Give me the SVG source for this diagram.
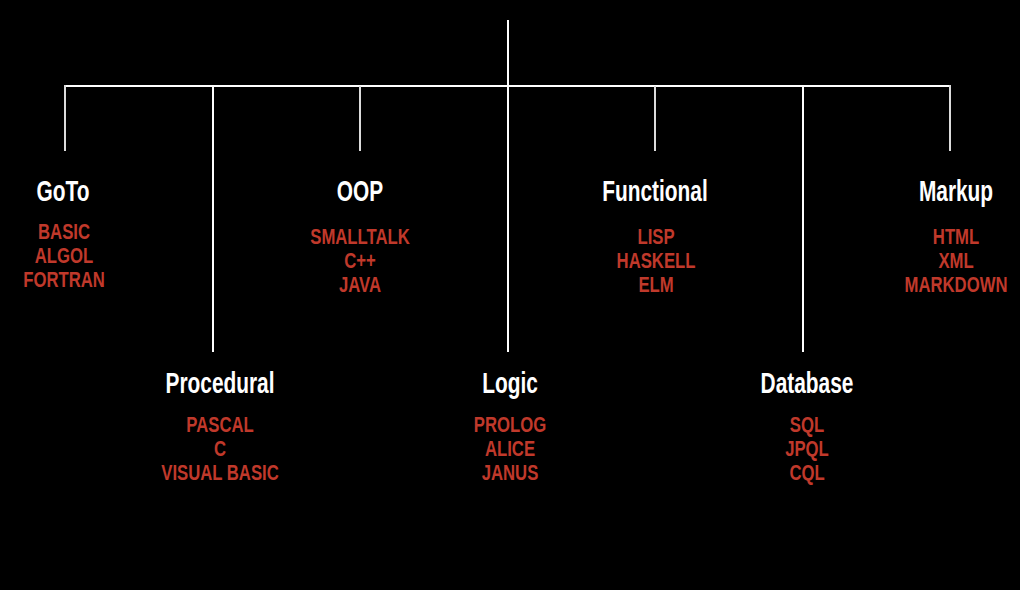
<svg xmlns="http://www.w3.org/2000/svg" width="1020" height="590" viewBox="0 0 1020 590">
  <style>
    .bg { fill: #000000; }
    .wire { stroke: #ffffff; stroke-width: 2; fill: none; }
    .stub { stroke: #dcdcdc; stroke-width: 2; fill: none; }
    .head { font-family: "Liberation Sans", Arial, sans-serif; font-weight: bold; font-size: 29px; fill: #ffffff; text-anchor: middle; }
    .item { font-family: "Liberation Sans", Arial, sans-serif; font-weight: bold; font-size: 21.4px; fill: #c0392b; text-anchor: middle; }
  </style>
  <rect class="bg" x="0" y="0" width="1020" height="590"/>

  <!-- tree connectors -->
  <g id="connectors">
    <line class="wire" x1="65" y1="86" x2="950" y2="86"/>
    <line class="wire" x1="508" y1="20" x2="508" y2="352"/>
    <line class="wire" x1="213" y1="86" x2="213" y2="352"/>
    <line class="wire" x1="803" y1="86" x2="803" y2="352"/>
    <line class="stub" x1="65" y1="85" x2="65" y2="151"/>
    <line class="stub" x1="360" y1="86" x2="360" y2="151"/>
    <line class="stub" x1="655" y1="86" x2="655" y2="151"/>
    <line class="stub" x1="950" y1="85" x2="950" y2="151"/>
  </g>

  <!-- paradigm nodes -->
  <g id="goto">
    <text class="head" transform="translate(63,201) scale(0.72,1)">GoTo</text>
    <text class="item" transform="translate(64,239) scale(0.78,1)">BASIC</text>
    <text class="item" transform="translate(64,263) scale(0.78,1)">ALGOL</text>
    <text class="item" transform="translate(64,287) scale(0.78,1)">FORTRAN</text>
  </g>
  <g id="oop">
    <text class="head" transform="translate(360,201) scale(0.72,1)">OOP</text>
    <text class="item" transform="translate(360,244) scale(0.78,1)">SMALLTALK</text>
    <text class="item" transform="translate(360,268) scale(0.78,1)">C++</text>
    <text class="item" transform="translate(360,292) scale(0.78,1)">JAVA</text>
  </g>
  <g id="functional">
    <text class="head" transform="translate(655,201) scale(0.72,1)">Functional</text>
    <text class="item" transform="translate(656,244) scale(0.78,1)">LISP</text>
    <text class="item" transform="translate(656,268) scale(0.78,1)">HASKELL</text>
    <text class="item" transform="translate(656,292) scale(0.78,1)">ELM</text>
  </g>
  <g id="markup">
    <text class="head" transform="translate(956,201) scale(0.72,1)">Markup</text>
    <text class="item" transform="translate(956,244) scale(0.78,1)">HTML</text>
    <text class="item" transform="translate(956,268) scale(0.78,1)">XML</text>
    <text class="item" transform="translate(956,292) scale(0.78,1)">MARKDOWN</text>
  </g>
  <g id="procedural">
    <text class="head" transform="translate(220,393) scale(0.72,1)">Procedural</text>
    <text class="item" transform="translate(220,432) scale(0.78,1)">PASCAL</text>
    <text class="item" transform="translate(220,456) scale(0.78,1)">C</text>
    <text class="item" transform="translate(220,480) scale(0.78,1)">VISUAL BASIC</text>
  </g>
  <g id="logic">
    <text class="head" transform="translate(510,393) scale(0.72,1)">Logic</text>
    <text class="item" transform="translate(510,432) scale(0.78,1)">PROLOG</text>
    <text class="item" transform="translate(510,456) scale(0.78,1)">ALICE</text>
    <text class="item" transform="translate(510,480) scale(0.78,1)">JANUS</text>
  </g>
  <g id="database">
    <text class="head" transform="translate(807,393) scale(0.72,1)">Database</text>
    <text class="item" transform="translate(807,432) scale(0.78,1)">SQL</text>
    <text class="item" transform="translate(807,456) scale(0.78,1)">JPQL</text>
    <text class="item" transform="translate(807,480) scale(0.78,1)">CQL</text>
  </g>
</svg>
